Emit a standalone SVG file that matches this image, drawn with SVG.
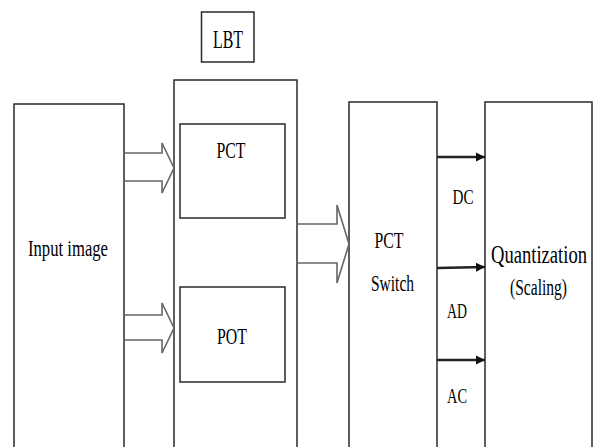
<svg xmlns="http://www.w3.org/2000/svg" width="602" height="447" viewBox="0 0 602 447">
<style>
.box{fill:none;stroke:#2a2a2a;stroke-width:1.5}
.blk{fill:none;stroke:#666;stroke-width:1.6}
.ln{stroke:#222;stroke-width:2.4;fill:none}
text{font-family:"Liberation Serif","DejaVu Serif","Times New Roman",serif;fill:#000}
</style>
<defs>
<marker id="ah" viewBox="0 0 10 10" refX="10" refY="5" markerWidth="9" markerHeight="12" markerUnits="userSpaceOnUse" orient="auto">
<path d="M0,0 L10,5 L0,10 Z" fill="#111"/>
</marker>
</defs>
<rect width="602" height="447" fill="#fff"/>
<g id="lbt-label"><rect class="box" x="201.5" y="12" width="52.5" height="50"/><text x="228" y="48" font-size="26" text-anchor="middle" textLength="30" lengthAdjust="spacingAndGlyphs">LBT</text></g>
<g id="input"><rect class="box" x="14" y="104" width="110" height="360"/><text x="68" y="256" font-size="24" text-anchor="middle" textLength="80" lengthAdjust="spacingAndGlyphs">Input image</text></g>
<g id="lbt"><rect class="box" x="174" y="80" width="123" height="384" stroke="#555"/></g>
<g id="pct"><rect class="box" x="180" y="124" width="105" height="94"/><text x="231" y="158" font-size="24" text-anchor="middle" textLength="29" lengthAdjust="spacingAndGlyphs">PCT</text></g>
<g id="pot"><rect class="box" x="180" y="287" width="105" height="95"/><text x="232" y="344" font-size="24" text-anchor="middle" textLength="30" lengthAdjust="spacingAndGlyphs">POT</text></g>
<g id="switch"><rect class="box" x="349" y="102" width="88" height="362"/><text x="389" y="248" font-size="24" text-anchor="middle" textLength="29" lengthAdjust="spacingAndGlyphs">PCT</text><text x="392.5" y="291" font-size="24" text-anchor="middle" textLength="43" lengthAdjust="spacingAndGlyphs">Switch</text></g>
<g id="quant"><rect class="box" x="485" y="102" width="107" height="362"/><text x="539" y="263" font-size="26" text-anchor="middle" textLength="96" lengthAdjust="spacingAndGlyphs">Quantization</text><text x="538.5" y="295" font-size="24" text-anchor="middle" textLength="57" lengthAdjust="spacingAndGlyphs">(Scaling)</text></g>
<g id="labels"><text x="463" y="204" font-size="22" text-anchor="middle" textLength="21" lengthAdjust="spacingAndGlyphs">DC</text><text x="457" y="318" font-size="22" text-anchor="middle" textLength="20" lengthAdjust="spacingAndGlyphs">AD</text><text x="457" y="403" font-size="22" text-anchor="middle" textLength="20" lengthAdjust="spacingAndGlyphs">AC</text></g>
<g id="connectors">
<polyline class="blk" points="124,153 162,153 162,143 174,168 162,193 162,181 124,181"/>
<polyline class="blk" points="124,315 162,315 162,303 174,328 162,353 162,340 124,340"/>
<polyline class="blk" points="297,224 337,224 337,205 349,244 337,283 337,263 297,263"/>
<line class="ln" x1="437" y1="157" x2="485" y2="157" marker-end="url(#ah)"/>
<line class="ln" x1="437" y1="268" x2="485" y2="267" marker-end="url(#ah)"/>
<line class="ln" x1="437" y1="360" x2="485" y2="360" marker-end="url(#ah)"/>
</g>
</svg>
